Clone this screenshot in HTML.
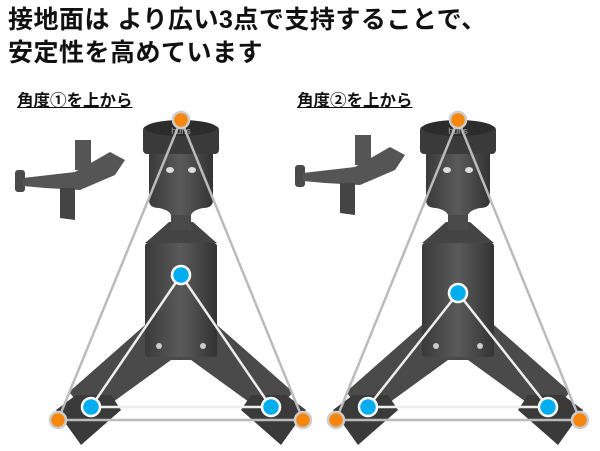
<!DOCTYPE html>
<html><head><meta charset="utf-8"><style>
body{margin:0;width:600px;height:451px;background:#fff;overflow:hidden;font-family:"Liberation Sans","Noto Sans CJK JP",sans-serif}
.t{position:absolute;left:8px;font-weight:bold;font-size:25px;color:#111;line-height:33px;letter-spacing:0.5px}
.s{position:absolute;top:87px;font-weight:bold;font-size:16.5px;text-decoration:underline;color:#111}
</style></head><body>
<div class="t" style="top:4px">接地面は より広い3点で支持することで、<br>安定性を高めています</div>
<div class="s" style="left:17px">角度①を上から</div>
<div class="s" style="left:297px">角度②を上から</div>
<svg width="600" height="451" style="position:absolute;left:0;top:0">
<defs>
<linearGradient id="g" x1="0" x2="1"><stop offset="0" stop-color="#3a3a3a"/><stop offset=".5" stop-color="#5a5a5a"/><stop offset="1" stop-color="#333"/></linearGradient>
<g id="dev">
 <polygon points="-36,325 -112,392 -90,418 -10,360 10,360 90,418 112,392 36,325" fill="#4a4a4a"/>
 <polygon points="-125,410 -105,395 -70,395 -60,410 -100,445" fill="#3a3a3a"/>
 <polygon points="125,410 105,395 70,395 60,410 100,445" fill="#3a3a3a"/>
 <rect x="-36" y="243" width="72" height="114" rx="3" fill="url(#g)"/>
 <polygon points="-12,222 12,222 30,238 36,243 -36,243 -30,238" fill="#444"/>
 <rect x="-10" y="205" width="20" height="25" fill="#4a4a4a"/>
 <path d="M-32,152 H32 V200 Q32,208 22,208 Q12,210 10,215 H-10 Q-12,210 -22,208 Q-32,208 -32,200Z" fill="url(#g)"/>
 <rect x="-38" y="126" width="76" height="28" rx="4" fill="#3a3a3a"/>
 <ellipse cx="0" cy="128" rx="36" ry="8" fill="#2c2c2c"/>
 <text x="0" y="134" font-size="9" fill="#aaa" text-anchor="middle" font-family="Liberation Sans">huns</text>
 <ellipse cx="-11" cy="170" rx="4" ry="3" fill="#ddd"/><ellipse cx="11" cy="170" rx="4" ry="3" fill="#ddd"/>
 <circle cx="-22" cy="346" r="3" fill="#ccc"/><circle cx="22" cy="346" r="3" fill="#ccc"/>
</g>
<g id="thumb">
 <rect x="0" y="30" width="10" height="22" rx="3" fill="#4a4a4a"/>
 <polygon points="8,38 60,32 95,12 110,20 100,35 65,50 30,48 8,46" fill="#555"/>
 <rect x="60" y="0" width="16" height="30" fill="#555"/>
 <polygon points="45,48 60,48 60,80 45,78" fill="#444"/>
</g>
</defs>
<use href="#dev" x="181"/>
<use href="#dev" x="458"/>
<use href="#thumb" x="15" y="140"/>
<use href="#thumb" x="295" y="135"/>
<g fill="none" stroke="#bbb" stroke-width="2.5">
 <polygon points="181,120 58,420 303,420"/>
 <polygon points="458,120 336,420 580,420"/>
</g>
<g fill="none" stroke="#eee" stroke-width="2.5">
 <polygon points="181,275 91,407 271,407"/>
 <polygon points="458,293 368,407 548,407"/>
</g>
<g fill="#f7860f" stroke="#ccc" stroke-width="2.5">
 <circle cx="181" cy="120" r="8"/><circle cx="58" cy="420" r="8"/><circle cx="303" cy="420" r="8"/>
 <circle cx="458" cy="120" r="8"/><circle cx="336" cy="420" r="8"/><circle cx="580" cy="420" r="8"/>
</g>
<g fill="#00adee" stroke="#fff" stroke-width="2.5">
 <circle cx="181" cy="275" r="9"/><circle cx="91" cy="407" r="9"/><circle cx="271" cy="407" r="9"/>
 <circle cx="458" cy="293" r="9"/><circle cx="368" cy="407" r="9"/><circle cx="548" cy="407" r="9"/>
</g>
</svg>
</body></html>
